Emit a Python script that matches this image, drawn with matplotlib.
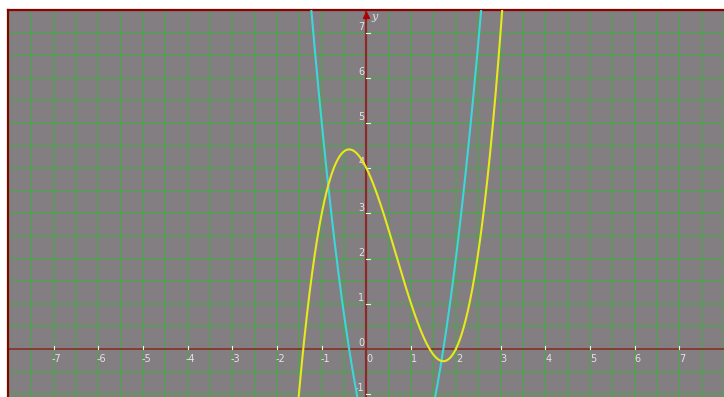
import numpy as np
import matplotlib.pyplot as plt

# polynomial coefficients (highest power first)
cubic_coef = [1, -2, -2, 4]      # yellow: roots at -1.41, 1.41, 2 ; f(0)=4
deriv_coef = [3, -4, -2]         # cyan: roots at -0.39, 1.72 ; g(0)=-2

x_ticks = [-7, -6, -5, -4, -3, -2, -1, 0, 1, 2, 3, 4, 5, 6, 7]
y_ticks = [-1, 0, 1, 2, 3, 4, 5, 6, 7]

x_min, x_max = -8.02, 7.75
y_min, y_max = -1.06, 7.47

bg = '#827e82'
grid_col = '#3fb03f'
axis_col = '#8c2a2a'
label_col = '#e4e4e4'

fig = plt.figure(figsize=(7.24, 3.97), dpi=100)
ax = fig.add_axes([8 / 724, 0, 716 / 724, 1 - 10 / 397])
ax.set_facecolor(bg)
ax.set_xlim(x_min, x_max)
ax.set_ylim(y_min, y_max)

# grid every half unit
ax.set_xticks(np.arange(-8, 8.01, 0.5))
ax.set_yticks(np.arange(-1, 7.51, 0.5))
ax.tick_params(length=0, labelbottom=False, labelleft=False)
ax.grid(True, color=grid_col, linestyle='-', linewidth=1.4, alpha=0.5)
ax.set_axisbelow(True)

for s in ['right', 'bottom']:
    ax.spines[s].set_visible(False)
for s in ['top', 'left']:
    ax.spines[s].set_color('#8b0000')
    ax.spines[s].set_linewidth(1.6)

# coordinate axes through origin
ax.axhline(0, color=axis_col, lw=1.2, zorder=2)
ax.axvline(0, color=axis_col, lw=1.6, zorder=2)
ax.plot([0], [y_max - 0.09], marker='^', color='#b00000', markersize=5,
        clip_on=False, zorder=5)
ax.text(0.12, y_max - 0.12, 'y', color=label_col, fontsize=8, style='italic',
        ha='left', va='center', family='serif')

# ticks and labels
for xt in x_ticks:
    if xt != 0:
        ax.plot([xt, xt], [0, 0.07], color='#f0f0f0', lw=0.8, zorder=3)
    ax.text(xt + 0.07, -0.1, str(xt), color=label_col, fontsize=7,
            ha='center', va='top')
for yt in y_ticks:
    if yt != 0:
        ax.plot([0, 0.07], [yt, yt], color='#f0f0f0', lw=0.8, zorder=3)
    ax.text(-0.05, yt + 0.02, str(yt), color=label_col, fontsize=7,
            ha='right', va='bottom')

xs = np.linspace(x_min, x_max, 2000)
ax.plot(xs, np.polyval(deriv_coef, xs), color='#3ad8d8', lw=1.5, zorder=4)
ax.plot(xs, np.polyval(cubic_coef, xs), color='#e8e81a', lw=1.5, zorder=4)

fig.savefig('out.png', dpi=100, facecolor='white')
